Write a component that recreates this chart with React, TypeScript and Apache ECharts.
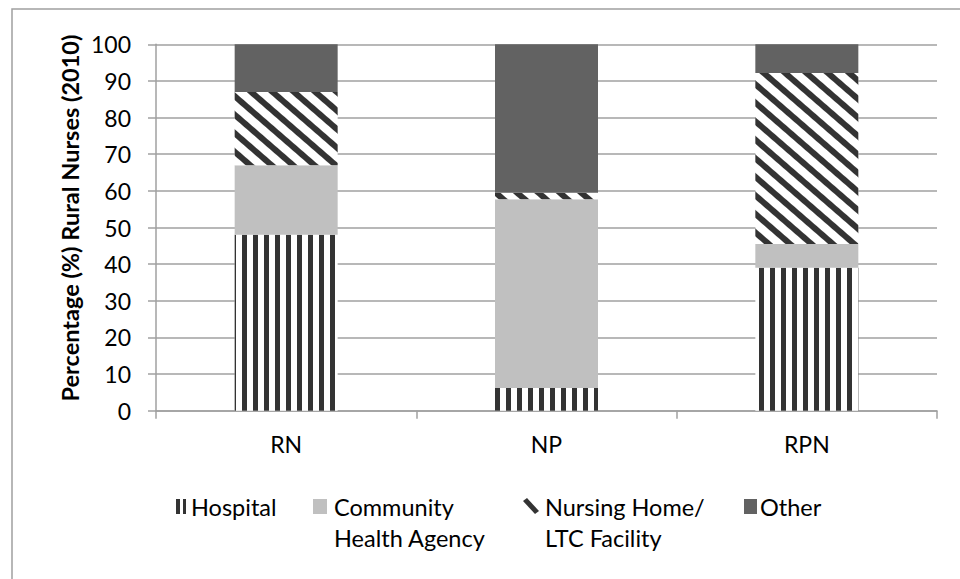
import React, { useEffect, useRef } from "react";
import * as echarts from "echarts";

const categories = ["RN", "NP", "RPN"];
const hospital = [48, 6.2, 39];
const community = [19, 51.5, 6.5];
const nursingHome = [20, 1.8, 46.7];
const other = [13, 40.5, 7.8];
const yTicks = { min: 0, max: 100, interval: 10 };

const FONT = "Lato";
const FS = 23;
const DARK = "#333333";

export default function App() {
  const ref = useRef<HTMLDivElement>(null);
  useEffect(() => {
    if (!ref.current) return;
    const chart = echarts.init(ref.current, undefined, { renderer: "svg" });
    const textStyle = { fontFamily: FONT, fontSize: 23.5, fill: "#000" };
    chart.setOption({
      animation: false,
      textStyle: { fontFamily: FONT },
      grid: { left: 156, right: 23, top: 44.3, bottom: 168.3 },
      xAxis: {
        type: "category",
        data: categories,
        boundaryGap: true,
        axisLine: { lineStyle: { color: "#a0a0a0", width: 1.5 } },
        axisTick: { show: true, length: 8, lineStyle: { color: "#a0a0a0", width: 1.5 } },
        axisLabel: { color: "#000", fontSize: FS, fontFamily: FONT, margin: 22 },
      },
      yAxis: {
        type: "value",
        min: yTicks.min,
        max: yTicks.max,
        interval: yTicks.interval,
        axisLine: { show: true, lineStyle: { color: "#a0a0a0", width: 1.5 } },
        axisTick: { show: true, length: 8, lineStyle: { color: "#a0a0a0", width: 1.5 } },
        splitLine: { lineStyle: { color: "#a0a0a0", width: 1.5 } },
        axisLabel: { color: "#000", fontSize: FS, fontFamily: FONT, margin: 25 },
      },
      series: [
        {
          name: "Hospital",
          type: "bar",
          stack: "s",
          barWidth: 103,
          data: hospital,
          itemStyle: {
            color: "#ffffff",
            decal: {
              symbol: "rect",
              symbolSize: 1,
              dashArrayX: [5, 6],
              dashArrayY: [1, 0],
              color: DARK,
              rotation: 0,
            },
          },
        },
        {
          name: "Community Health Agency",
          type: "bar",
          stack: "s",
          barWidth: 103,
          data: community,
          itemStyle: { color: "#c0c0c0" },
        },
        {
          name: "Nursing Home/ LTC Facility",
          type: "bar",
          stack: "s",
          barWidth: 103,
          data: nursingHome,
          itemStyle: {
            color: "#ffffff",
            decal: {
              symbol: "rect",
              symbolSize: 1,
              dashArrayX: [1, 0],
              dashArrayY: [6, 8],
              color: DARK,
              rotation: Math.PI / 4.4,
            },
          },
        },
        {
          name: "Other",
          type: "bar",
          stack: "s",
          barWidth: 103,
          data: other,
          itemStyle: { color: "#626262" },
        },
      ],
      graphic: [
        {
          type: "rect",
          shape: { x: 12, y: 9, width: 1000, height: 1000 },
          style: { fill: "none", stroke: "#a0a0a0", lineWidth: 1.5 },
          silent: true,
        },
        {
          type: "text",
          x: 70,
          y: 218,
          rotation: Math.PI / 2,
          style: {
            text: "Percentage (%) Rural Nurses (2010)",
            fontFamily: FONT,
            fontSize: 23.5,
            fontWeight: "bold",
            fill: "#000",
            align: "center",
            verticalAlign: "middle",
          },
        },
        // legend icons
        { type: "rect", shape: { x: 176, y: 499, width: 4, height: 15 }, style: { fill: DARK } },
        { type: "rect", shape: { x: 183, y: 499, width: 3, height: 15 }, style: { fill: DARK } },
        { type: "text", x: 191, y: 507, style: { ...textStyle, text: "Hospital", verticalAlign: "middle" } },
        { type: "rect", shape: { x: 313, y: 499, width: 14, height: 15 }, style: { fill: "#c0c0c0" } },
        {
          type: "text",
          x: 334,
          y: 507,
          style: { ...textStyle, text: "Community\nHealth Agency", verticalAlign: "top", lineHeight: 31, y: -15.5 },
        },
        {
          type: "polygon",
          shape: { points: [[523, 501], [527, 498], [539, 511], [535, 514]] },
          style: { fill: DARK },
        },
        {
          type: "text",
          x: 545,
          y: 507,
          style: { ...textStyle, text: "Nursing Home/\nLTC Facility", verticalAlign: "top", lineHeight: 31, y: -15.5 },
        },
        { type: "rect", shape: { x: 744, y: 499, width: 13, height: 15 }, style: { fill: "#626262" } },
        { type: "text", x: 760, y: 507, style: { ...textStyle, text: "Other", verticalAlign: "middle" } },
      ],
    });
    return () => chart.dispose();
  }, []);
  return (
    <div
      ref={ref}
      style={{ position: "fixed", left: 0, top: 0, width: 960, height: 579, background: "#fff" }}
    />
  );
}
